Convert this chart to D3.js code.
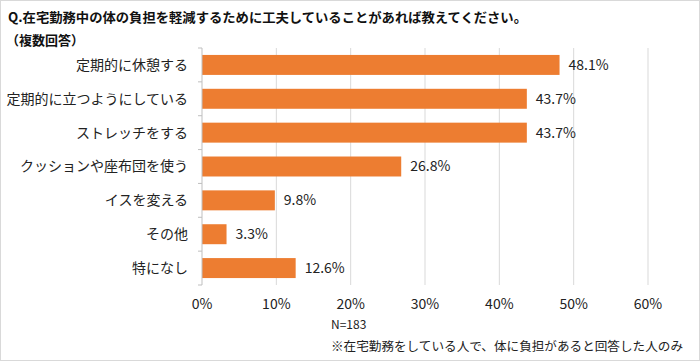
<!DOCTYPE html>
<html><head><meta charset="utf-8">
<script src="https://cdn.jsdelivr.net/npm/d3@7"></script>
<style>body{margin:0;background:#fff}svg{display:block;font-family:"Noto Sans CJK JP","Noto Sans",sans-serif}</style>
</head><body>
<script>
const categories = ["定期的に休憩する","定期的に立つようにしている","ストレッチをする","クッションや座布団を使う","イスを変える","その他","特になし"];
const values = [48.1, 43.7, 43.7, 26.8, 9.8, 3.3, 12.6];
const ticks = [0, 10, 20, 30, 40, 50, 60];
const title = "Q.在宅勤務中の体の負担を軽減するために工夫していることがあれば教えてください。";
const subtitle = "（複数回答）";
const nLabel = "N=183";
const note = "※在宅勤務をしている人で、体に負担があると回答した人のみ";

const W = 700, H = 361;
const svg = d3.select("body").append("svg").attr("width", W).attr("height", H);
svg.append("rect").attr("x",0.5).attr("y",0.5).attr("width",W-1).attr("height",H-1)
  .attr("fill","#fff").attr("stroke","#d9d9d9");

const x = d3.scaleLinear().domain([0,60]).range([202,648]);
const y = d3.scaleBand().domain(categories).range([48,285]).paddingInner(0.41).paddingOuter(0.205);

// gridlines
svg.append("g").selectAll("line").data(ticks.slice(1)).join("line")
  .attr("x1",d=>x(d)).attr("x2",d=>x(d)).attr("y1",48).attr("y2",285)
  .attr("stroke","#d9d9d9").attr("stroke-width",1);

// bars
svg.append("g").selectAll("rect").data(values).join("rect")
  .attr("x",x(0)).attr("y",(d,i)=>y(categories[i]))
  .attr("width",d=>x(d)-x(0)).attr("height",y.bandwidth())
  .attr("fill","#ED7D31");

// y axis line and ticks
const step = y.step();
svg.append("line").attr("x1",x(0)).attr("x2",x(0)).attr("y1",48).attr("y2",285).attr("stroke","#bfbfbf");
svg.append("g").selectAll("line").data(d3.range(categories.length+1)).join("line")
  .attr("x1",x(0)-4).attr("x2",x(0)).attr("y1",d=>48+d*step).attr("y2",d=>48+d*step).attr("stroke","#bfbfbf");

// category labels
svg.append("g").selectAll("text").data(categories).join("text")
  .attr("x",188).attr("y",d=>y(d)+y.bandwidth()/2).attr("dy","0.35em")
  .attr("text-anchor","end").attr("font-size",14).attr("fill","#222").text(d=>d);

// value labels
svg.append("g").selectAll("text").data(values).join("text")
  .attr("x",d=>x(d)+9).attr("y",(d,i)=>y(categories[i])+y.bandwidth()/2).attr("dy","0.35em")
  .attr("font-size",14).attr("fill","#222").text(d=>d.toFixed(1)+"%");

// x tick labels
svg.append("g").selectAll("text").data(ticks).join("text")
  .attr("x",d=>x(d)).attr("y",304).attr("dy","0.35em").attr("text-anchor","middle")
  .attr("font-size",14).attr("fill","#222").text(d=>d+"%");

svg.append("text").attr("x",8).attr("y",17).attr("dy","0.35em").attr("font-size",13).attr("font-weight","bold")
  .attr("fill","#111").attr("textLength",519).attr("lengthAdjust","spacingAndGlyphs").text(title);
svg.append("text").attr("x",6).attr("y",40).attr("dy","0.35em").attr("font-size",13).attr("font-weight","bold")
  .attr("fill","#111").text(subtitle);
svg.append("text").attr("x",331).attr("y",325).attr("dy","0.35em").attr("font-size",12).attr("fill","#222").text(nLabel);
svg.append("text").attr("x",331).attr("y",347).attr("dy","0.35em").attr("font-size",12.5).attr("fill","#222")
  .attr("textLength",352).attr("lengthAdjust","spacingAndGlyphs").text(note);
</script>
</body></html>
